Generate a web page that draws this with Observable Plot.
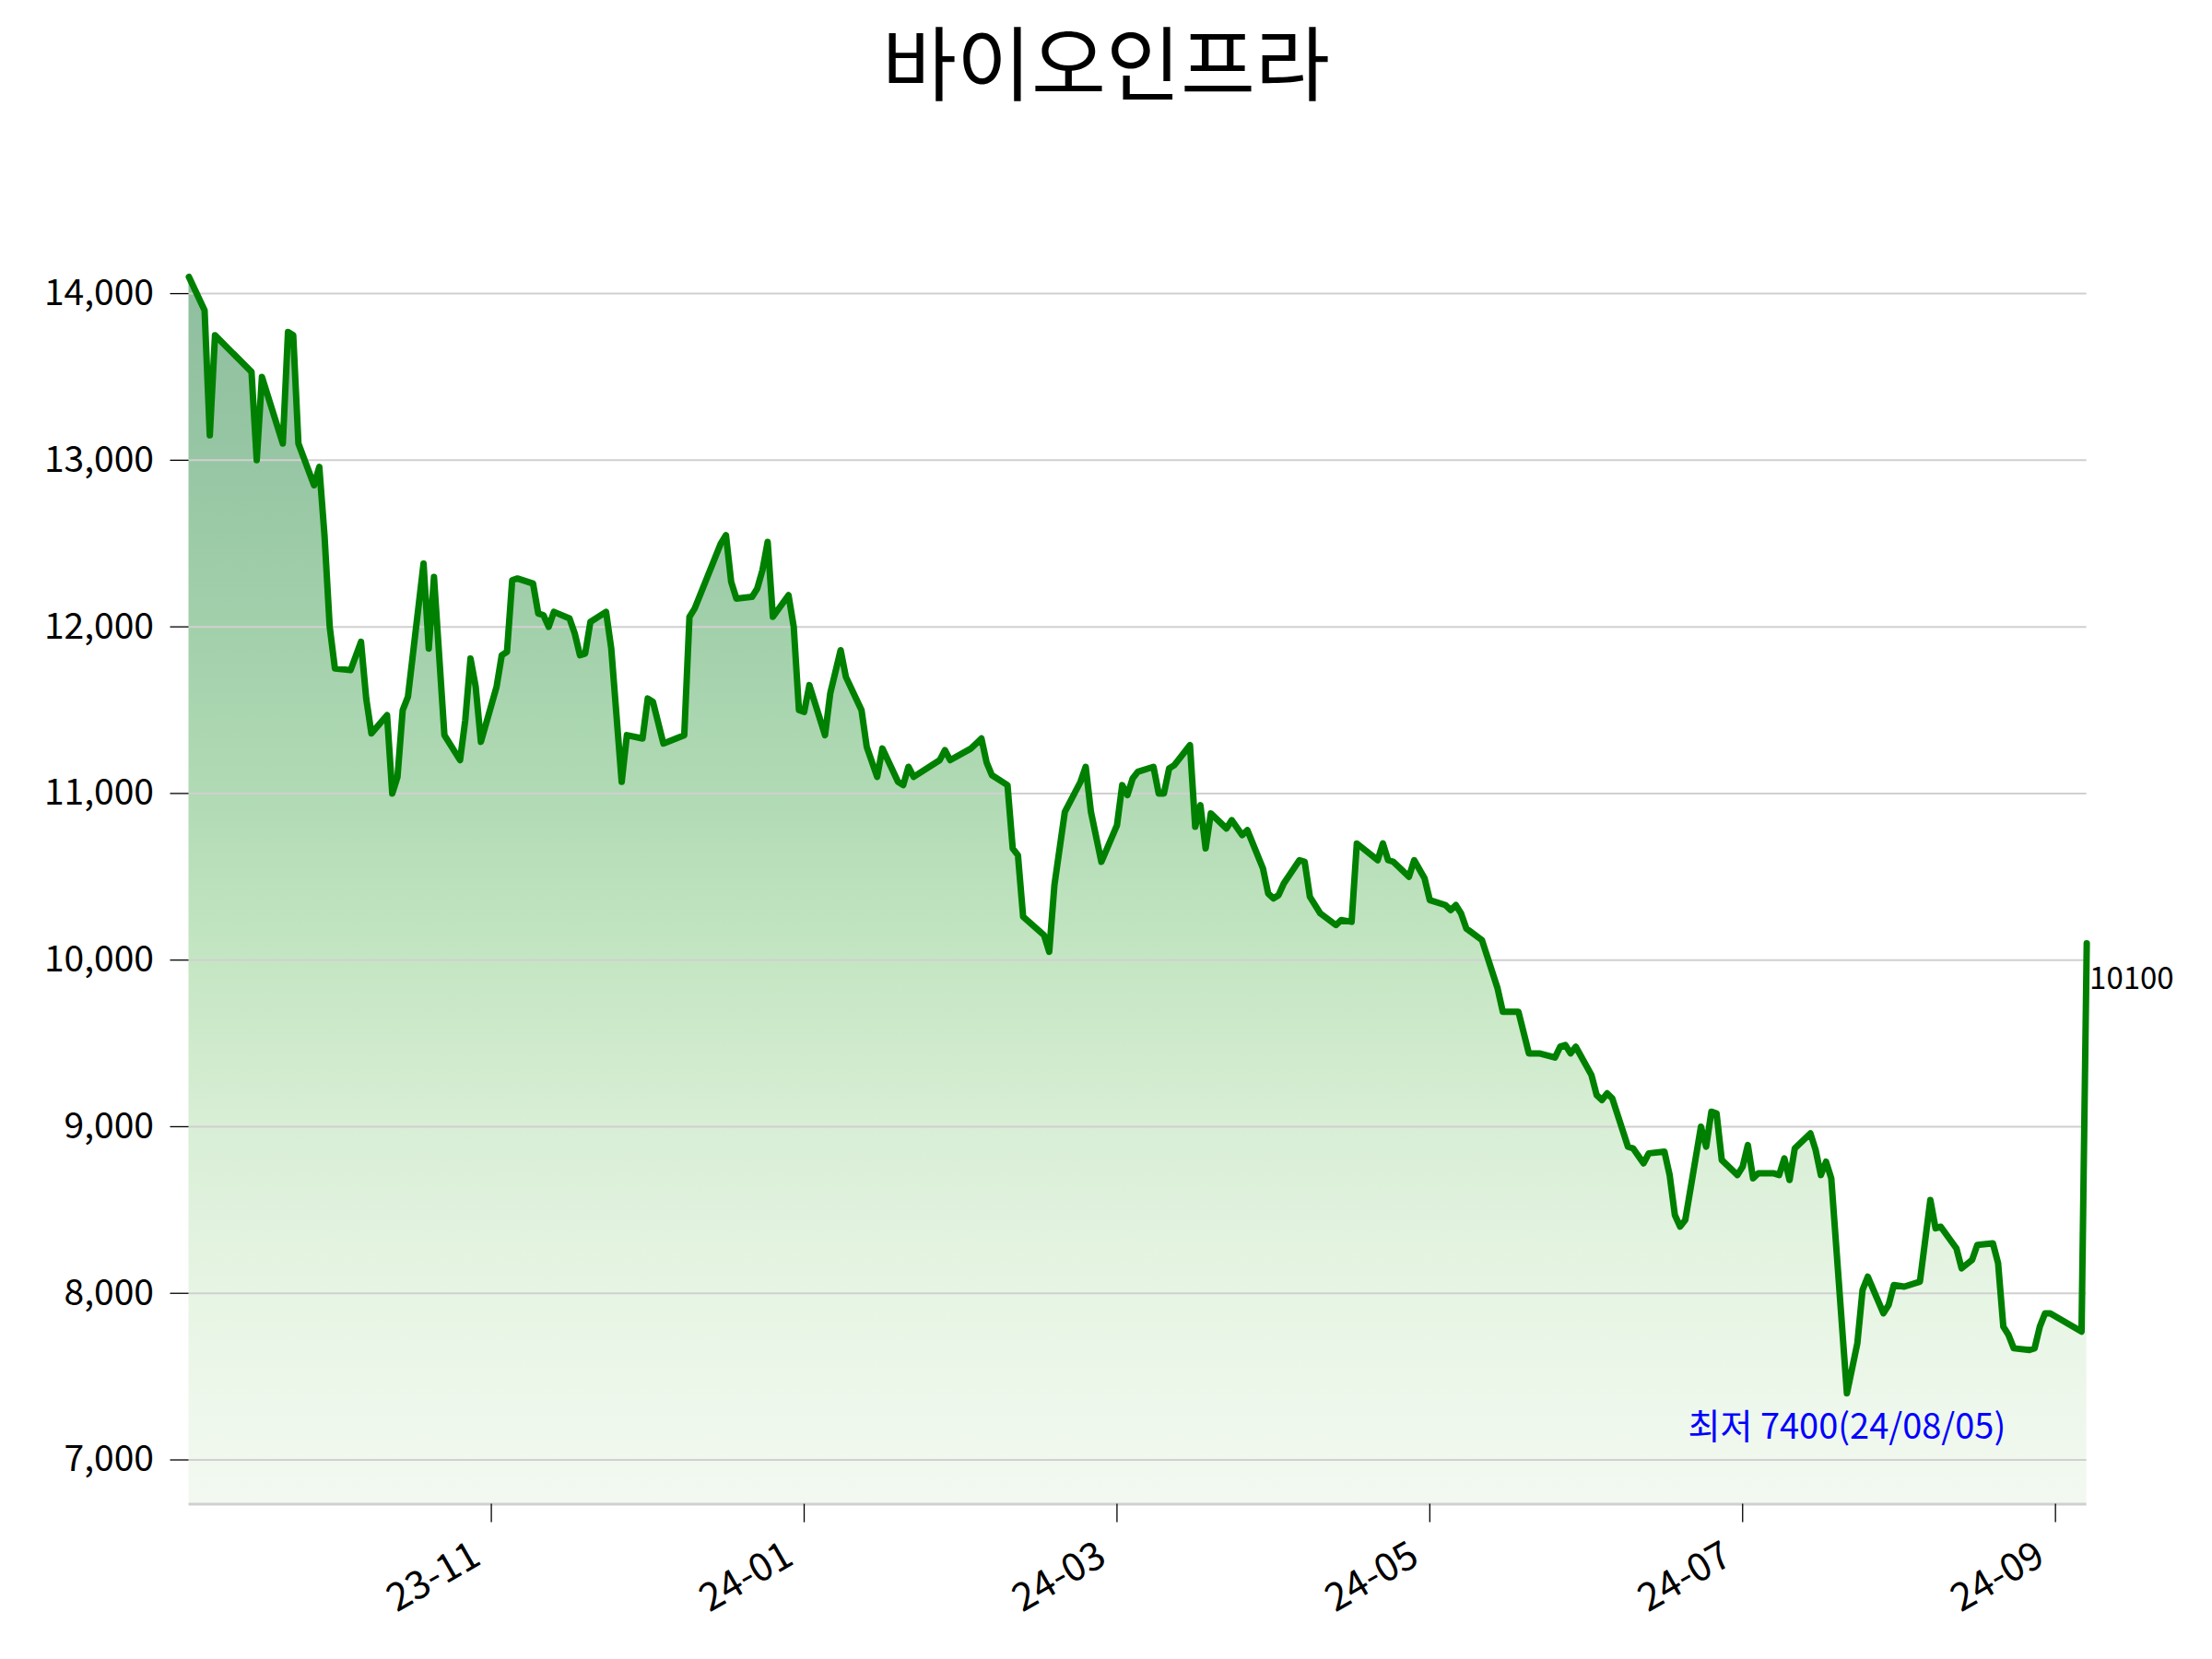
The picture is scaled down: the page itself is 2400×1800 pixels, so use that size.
<!DOCTYPE html>
<html><head><meta charset="utf-8">
<script src="https://cdn.jsdelivr.net/npm/d3@7"></script>
<script src="https://cdn.jsdelivr.net/npm/@observablehq/plot@0.6"></script>
<style>
html,body{margin:0;padding:0;background:#fff;overflow:hidden}
#title{width:2400px;height:150px;line-height:128px;text-align:center;font-family:"Noto Sans CJK KR",sans-serif;font-size:88px;color:#000}
#chart svg{display:block}
</style></head><body>
<div id="title"></div>
<div id="chart"></div>
<script>
const title = "바이오인프라";
const dates = [
"2023-09-22","2023-09-25","2023-09-26","2023-09-27","2023-10-04","2023-10-05","2023-10-06","2023-10-10","2023-10-11","2023-10-12",
"2023-10-13","2023-10-16","2023-10-17","2023-10-18","2023-10-19","2023-10-20","2023-10-23","2023-10-25","2023-10-26","2023-10-27",
"2023-10-30","2023-10-31","2023-11-01","2023-11-02","2023-11-03","2023-11-06","2023-11-07","2023-11-08","2023-11-10","2023-11-13",
"2023-11-14","2023-11-15","2023-11-16","2023-11-17","2023-11-20","2023-11-21","2023-11-22","2023-11-23","2023-11-24","2023-11-27",
"2023-11-28","2023-11-29","2023-11-30","2023-12-01","2023-12-04","2023-12-05","2023-12-06","2023-12-07","2023-12-08","2023-12-11",
"2023-12-12","2023-12-14","2023-12-15","2023-12-18","2023-12-19","2023-12-20","2023-12-22","2023-12-26","2023-12-27","2023-12-28",
"2024-01-02","2024-01-03","2024-01-04","2024-01-05","2024-01-08","2024-01-09","2024-01-10","2024-01-11","2024-01-12","2024-01-15",
"2024-01-16","2024-01-17","2024-01-18","2024-01-19","2024-01-22","2024-01-23","2024-01-25","2024-01-26","2024-01-29","2024-01-30",
"2024-02-01","2024-02-02","2024-02-05","2024-02-06","2024-02-07","2024-02-08","2024-02-13","2024-02-14","2024-02-15","2024-02-19",
"2024-02-20","2024-02-21","2024-02-22","2024-02-23","2024-02-26","2024-02-27","2024-02-28","2024-02-29","2024-03-04","2024-03-05",
"2024-03-06","2024-03-08","2024-03-11","2024-03-12","2024-03-13","2024-03-15","2024-03-18","2024-03-19","2024-03-20","2024-03-21",
"2024-03-22","2024-03-25","2024-03-26","2024-03-27","2024-03-28","2024-03-29","2024-04-01","2024-04-02","2024-04-03","2024-04-04",
"2024-04-05","2024-04-08","2024-04-09","2024-04-11","2024-04-12","2024-04-15","2024-04-16","2024-04-17","2024-04-18","2024-04-19",
"2024-04-22","2024-04-23","2024-04-24","2024-04-26","2024-04-29","2024-04-30","2024-05-02","2024-05-03","2024-05-07","2024-05-08",
"2024-05-09","2024-05-10","2024-05-13","2024-05-14","2024-05-16","2024-05-17","2024-05-20","2024-05-21","2024-05-22","2024-05-23",
"2024-05-24","2024-05-27","2024-05-30","2024-05-31","2024-06-03","2024-06-05","2024-06-07","2024-06-10","2024-06-11","2024-06-12",
"2024-06-13","2024-06-14","2024-06-17","2024-06-18","2024-06-19","2024-06-20","2024-06-21","2024-06-24","2024-06-25","2024-06-27",
"2024-06-28","2024-07-01","2024-07-02","2024-07-03","2024-07-04","2024-07-05","2024-07-08","2024-07-09","2024-07-10","2024-07-11",
"2024-07-12","2024-07-15","2024-07-16","2024-07-17","2024-07-18","2024-07-19","2024-07-22","2024-07-23","2024-07-24","2024-07-25",
"2024-07-26","2024-07-29","2024-07-30","2024-07-31","2024-08-01","2024-08-02","2024-08-05","2024-08-07","2024-08-08","2024-08-09",
"2024-08-12","2024-08-13","2024-08-14","2024-08-16","2024-08-19","2024-08-21","2024-08-22","2024-08-23","2024-08-26","2024-08-27",
"2024-08-29","2024-08-30","2024-09-02","2024-09-03","2024-09-04","2024-09-05","2024-09-06","2024-09-09","2024-09-10","2024-09-11",
"2024-09-12","2024-09-13","2024-09-19","2024-09-20"
];
const prices = [
14100,13900,13150,13750,13530,13000,13500,13100,13770,13750,
13100,12850,12960,12550,12000,11750,11740,11910,11570,11360,
11470,11000,11100,11500,11580,12380,11870,12300,11350,11200,
11440,11810,11640,11310,11640,11830,11850,12280,12290,12260,
12080,12070,12000,12090,12050,11960,11830,11840,12030,12090,
11870,11070,11350,11330,11570,11550,11300,11350,12060,12110,
12500,12550,12270,12170,12180,12230,12340,12510,12060,12190,
12000,11500,11490,11650,11350,11600,11860,11700,11500,11280,
11100,11270,11070,11050,11160,11100,11200,11260,11200,11270,
11300,11330,11185,11110,11050,10670,10630,10260,10150,10050,
10450,10890,11070,11160,10890,10590,10810,11050,10990,11090,
11130,11160,11000,11000,11150,11170,11290,10800,10930,10670,
10880,10790,10840,10750,10780,10550,10400,10370,10390,10460,
10600,10590,10380,10280,10210,10240,10230,10700,10600,10700,
10600,10590,10500,10600,10490,10360,10330,10300,10330,10280,
10190,10120,9830,9690,9690,9440,9440,9415,9480,9490,
9440,9480,9310,9190,9160,9200,9170,8880,8870,8780,
8840,8850,8710,8470,8400,8440,9000,8880,9090,9080,
8800,8710,8760,8890,8690,8720,8720,8710,8810,8680,
8870,8960,8860,8710,8790,8690,7400,7700,8020,8100,
7880,7930,8050,8040,8070,8560,8390,8400,8270,8150,
8200,8290,8300,8180,7800,7750,7670,7660,7670,7800,
7880,7880,7770,10100
];
const yTicks = [7000, 8000, 9000, 10000, 11000, 12000, 13000, 14000];
const xTickDates = ["2023-11-19", "2024-01-18", "2024-03-18", "2024-05-17", "2024-07-16", "2024-09-14"];
const xTickLabels = ["23-11", "24-01", "24-03", "24-05", "24-07", "24-09"];
const yBottom = 6734;
const yTop = 14100;
const minLabel = "최저 7400(24/08/05)";

document.getElementById("title").textContent = title;

const parse = d3.utcParse("%Y-%m-%d");
const data = dates.map((d, i) => ({date: parse(d), price: prices[i]}));
const minIdx = d3.minIndex(prices);
const last = data[data.length - 1];
const tickDates = xTickDates.map(parse);
const labelOf = new Map(tickDates.map((d, i) => [+d, xTickLabels[i]]));

const gradientDefs = () => {
  const ns = "http://www.w3.org/2000/svg";
  const defs = document.createElementNS(ns, "defs");
  const g = document.createElementNS(ns, "linearGradient");
  g.setAttribute("id", "fillGrad");
  g.setAttribute("x1", "0"); g.setAttribute("y1", "0");
  g.setAttribute("x2", "0"); g.setAttribute("y2", "1");
  const stops = [[0, "#8fbf9f"], [0.15, "#97c6a4"], [0.285, "#a2d0ab"], [0.42, "#b0dab4"],
                 [0.56, "#c5e6c3"], [0.69, "#d8eed5"], [0.83, "#e7f5e4"], [1, "#f3f9f1"]];
  for (const [o, c] of stops) {
    const s = document.createElementNS(ns, "stop");
    s.setAttribute("offset", o);
    s.setAttribute("stop-color", c);
    g.appendChild(s);
  }
  defs.appendChild(g);
  return defs;
};

const font = '"Noto Sans CJK KR", "Noto Sans", sans-serif';

const chart = Plot.plot({
  width: 2400,
  height: 1650,
  marginTop: 150,
  marginBottom: 168.4,
  marginLeft: 204.5,
  marginRight: 136.4,
  style: {fontFamily: font, background: "#fff", color: "#000", overflow: "visible"},
  x: {type: "utc", domain: [data[0].date, last.date], label: null},
  y: {domain: [yBottom, yTop], label: null},
  marks: [
    gradientDefs,
    Plot.areaY(data, {x: "date", y1: yBottom, y2: "price", fill: "url(#fillGrad)"}),
    Plot.gridY(yTicks, {stroke: "#d0d0d0", strokeOpacity: 1, strokeWidth: 2}),
    Plot.ruleY([yBottom], {stroke: "#d0d0d0", strokeWidth: 3}),
    Plot.lineY(data, {x: "date", y: "price", stroke: "#008000", strokeWidth: 7, strokeLinejoin: "round"}),
    Plot.axisY(yTicks, {tickFormat: d3.format(","), tickSize: 20, tickPadding: 18, fontSize: 39, strokeWidth: 1.3, label: null}),
    Plot.axisX(tickDates, {tickFormat: () => "", tickSize: 20, strokeWidth: 1.3, label: null}),
    Plot.axisX(tickDates, {tickFormat: d => labelOf.get(+d), tickRotate: -30, tickSize: 0, tickPadding: 52, dx: -16, fontSize: 42, label: null}),
    Plot.text([data[minIdx]], {x: "date", y: "price", text: () => minLabel, fill: "#0000ff", fontSize: 38, dy: 37}),
    Plot.text([last], {x: "date", y: "price", text: d => String(d.price), textAnchor: "start", dx: 3, dy: 39, fontSize: 33, fill: "#000"})
  ]
});
document.getElementById("chart").appendChild(chart);
</script>
</body></html>
